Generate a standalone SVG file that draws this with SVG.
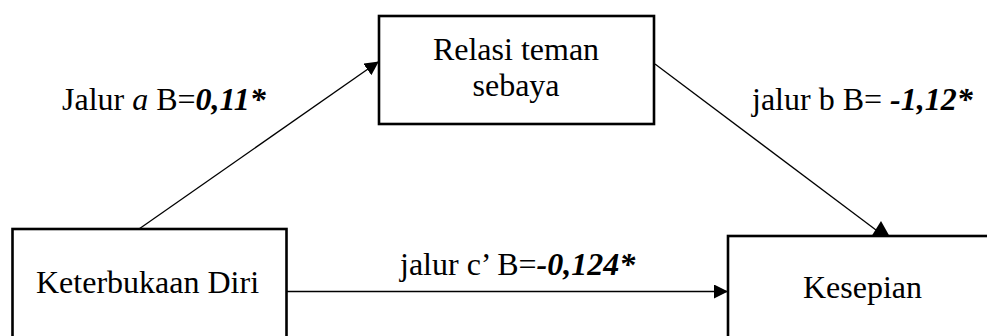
<svg xmlns="http://www.w3.org/2000/svg" width="987" height="336" viewBox="0 0 987 336">
<style>
.box{fill:#fff;stroke:#000;stroke-width:2.6}
.t{font-family:'Liberation Serif','Tinos','Times New Roman','DejaVu Serif',serif;font-size:32px;fill:#000}
.c{stroke:#000;stroke-width:1.3;fill:none}
.bi{font-weight:bold;font-style:italic}
</style>
<defs>
<marker id="ah" markerWidth="14" markerHeight="14" refX="13" refY="7" orient="auto" markerUnits="userSpaceOnUse">
<path d="M0,0 L14,7 L0,14 Z" fill="#000"/>
</marker>
</defs>
<rect width="987" height="336" fill="#fff"/>
<g id="connectors">
<line class="c" x1="139" y1="229" x2="378" y2="62" marker-end="url(#ah)"/>
<line class="c" x1="655" y1="64" x2="876" y2="230"/>
<polygon points="881,221 871,237 890,237" fill="#000"/>
<line class="c" x1="287" y1="291.5" x2="727" y2="291.5" marker-end="url(#ah)"/>
<text class="t" x="62" y="110">Jalur <tspan font-style="italic">a</tspan> B=<tspan class="bi">0,11*</tspan></text>
<text class="t" x="752" y="110">jalur b B= <tspan class="bi">-1,12*</tspan></text>
<text class="t" x="400" y="275">jalur c’ B=<tspan class="bi">-0,124*</tspan></text>
</g>
<g id="relasi">
<rect class="box" x="379" y="16" width="275" height="108"/>
<text class="t" x="516" y="60" text-anchor="middle">Relasi teman</text>
<text class="t" x="516" y="96" text-anchor="middle">sebaya</text>
</g>
<g id="keterbukaan">
<rect class="box" x="12.5" y="229" width="274" height="130"/>
<text class="t" x="36" y="293">Keterbukaan Diri</text>
</g>
<g id="kesepian">
<rect class="box" x="728" y="236" width="280" height="130"/>
<text class="t" x="803" y="298">Kesepian</text>
</g>
</svg>
